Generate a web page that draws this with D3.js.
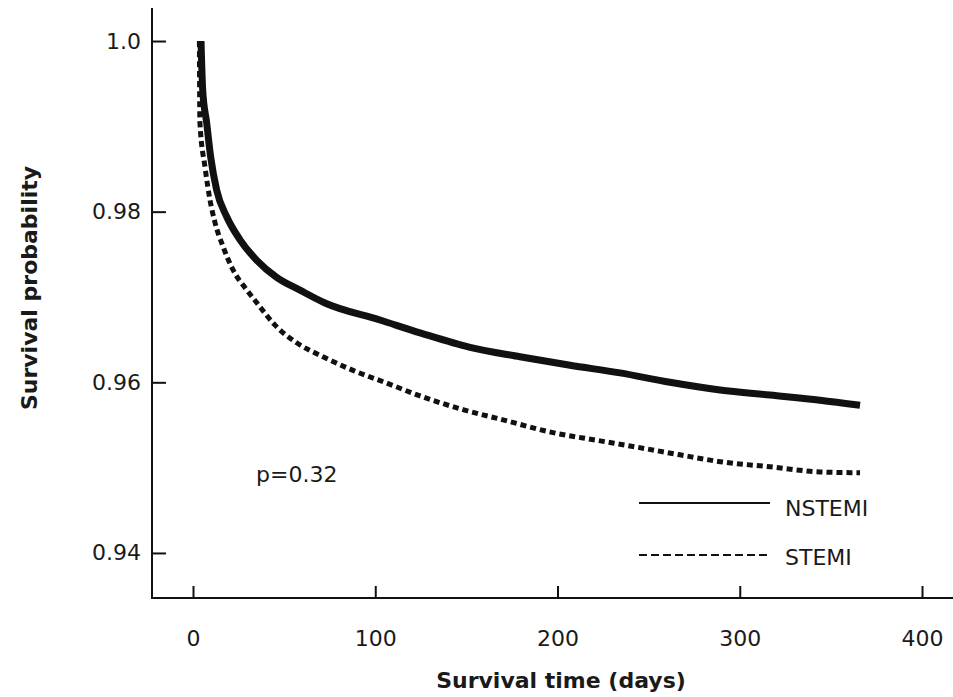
<!DOCTYPE html>
<html>
<head>
<meta charset="utf-8">
<script src="https://cdn.jsdelivr.net/npm/d3@7"></script>
<style>
  html, body { margin: 0; padding: 0; background: #fff; }
  svg { display: block; }
  text { font-family: "DejaVu Sans", sans-serif; fill: #1a1a1a; }
</style>
</head>
<body>
<svg id="chart" width="953" height="697"></svg>
<script>
// Kaplan-Meier survival estimates (days, survival probability)
const nstemiDays = [4.4, 5.3, 7.5, 9.7, 13.0, 18.5, 25.8, 35.0, 45.9, 58.7, 72.4, 102.6, 124.6, 152.0, 179.4, 206.9, 234.3, 261.7, 289.2, 316.6, 344.0, 366.0];
const nstemiSurv = [1.0, 0.9943, 0.9904, 0.9864, 0.9825, 0.9794, 0.9767, 0.9743, 0.9723, 0.9708, 0.9693, 0.9673, 0.9658, 0.9641, 0.9630, 0.9620, 0.9611, 0.9600, 0.9591, 0.9585, 0.9579, 0.9573];

const stemiDays = [3.5, 3.8, 6.6, 9.3, 12.1, 16.5, 21.9, 29.6, 35.1, 45.0, 57.1, 71.3, 87.8, 106.4, 124.6, 148.1, 170.1, 197.5, 221.7, 243.6, 267.2, 289.2, 316.6, 344.0, 366.0];
const stemiSurv = [1.0, 0.9904, 0.9852, 0.9814, 0.9787, 0.9759, 0.9732, 0.9708, 0.9693, 0.9667, 0.9646, 0.9630, 0.9614, 0.9599, 0.9584, 0.9568, 0.9556, 0.9541, 0.9532, 0.9524, 0.9515, 0.9507, 0.9501, 0.9495, 0.9494];

const xTicks = [0, 100, 200, 300, 400];
const yTicks = [0.94, 0.96, 0.98, 1.0];
const yTickLabels = ["0.94", "0.96", "0.98", "1.0"];

const seriesNames = ["NSTEMI", "STEMI"];
const pValueLabel = "p=0.32";
const xTitle = "Survival time (days)";
const yTitle = "Survival probability";

const svg = d3.select("#chart");

const x = d3.scaleLinear().domain([-22.5, 417]).range([152, 953]);
const y = d3.scaleLinear().domain([0.93472, 1.00387]).range([598, 8]);

const fs = 22;

// Axis lines
svg.append("line").attr("x1", 152).attr("x2", 152).attr("y1", y.range()[1]).attr("y2", y.range()[0])
  .attr("stroke", "#111").attr("stroke-width", 2);
svg.append("line").attr("x1", 151).attr("x2", 953).attr("y1", 598).attr("y2", 598)
  .attr("stroke", "#111").attr("stroke-width", 2);

// Y axis: ticks point inward
const yAxis = d3.axisLeft(y).tickValues(yTicks)
  .tickFormat((d, i) => yTickLabels[i])
  .tickSizeInner(-14).tickSizeOuter(0).tickPadding(11);
const gy = svg.append("g").attr("transform", "translate(152,0)").call(yAxis);
gy.select(".domain").remove();
gy.selectAll(".tick line").attr("stroke", "#111").attr("stroke-width", 2);
gy.selectAll(".tick text").attr("font-size", fs).attr("font-family", "DejaVu Sans").attr("fill", "#1a1a1a");

// X axis: ticks point inward
const xAxis = d3.axisBottom(x).tickValues(xTicks)
  .tickSizeInner(-12).tickSizeOuter(0).tickPadding(32);
const gx = svg.append("g").attr("transform", "translate(0,598)").call(xAxis);
gx.select(".domain").remove();
gx.selectAll(".tick line").attr("stroke", "#111").attr("stroke-width", 2);
gx.selectAll(".tick text").attr("font-size", fs).attr("font-family", "DejaVu Sans").attr("fill", "#1a1a1a");

// Axis titles
svg.append("text").attr("x", 561).attr("y", 688).attr("text-anchor", "middle")
  .attr("font-size", fs).attr("font-weight", "bold").text(xTitle);
svg.append("text").attr("transform", "translate(37,288) rotate(-90)").attr("text-anchor", "middle")
  .attr("font-size", fs).attr("font-weight", "bold").text(yTitle);

// Survival curves
const line = d3.line().x(d => x(d[0])).y(d => y(d[1])).curve(d3.curveMonotoneX);
const stemi = stemiDays.map((d, i) => [d, stemiSurv[i]]);
const nstemi = nstemiDays.map((d, i) => [d, nstemiSurv[i]]);

svg.append("path").datum(stemi).attr("d", line)
  .attr("fill", "none").attr("stroke", "#111").attr("stroke-width", 5)
  .attr("stroke-dasharray", "6,4");
svg.append("path").datum(nstemi).attr("d", line)
  .attr("fill", "none").attr("stroke", "#111").attr("stroke-width", 7);

// p-value
svg.append("text").attr("x", 256).attr("y", 482).attr("font-size", fs).text(pValueLabel);

// Legend
svg.append("line").attr("x1", 639).attr("x2", 770).attr("y1", 503).attr("y2", 503)
  .attr("stroke", "#111").attr("stroke-width", 2);
svg.append("text").attr("x", 785).attr("y", 516).attr("font-size", fs).text(seriesNames[0]);
svg.append("line").attr("x1", 639).attr("x2", 770).attr("y1", 555).attr("y2", 555)
  .attr("stroke", "#111").attr("stroke-width", 2).attr("stroke-dasharray", "8,4");
svg.append("text").attr("x", 785).attr("y", 565).attr("font-size", fs).text(seriesNames[1]);
</script>
</body>
</html>
